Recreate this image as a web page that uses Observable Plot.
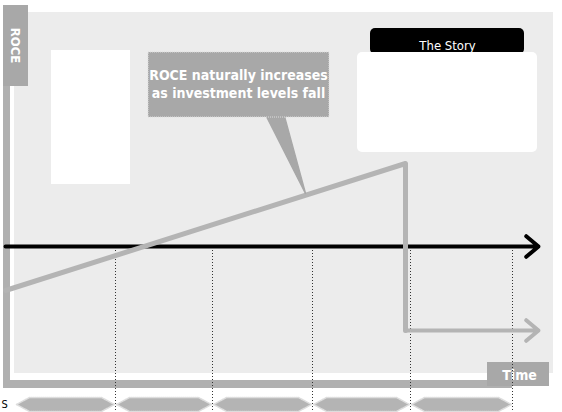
<!DOCTYPE html>
<html><head><meta charset="utf-8">
<script src="https://cdn.jsdelivr.net/npm/d3@7"></script>
<script src="https://cdn.jsdelivr.net/npm/@observablehq/plot@0.6"></script>
<style>body{margin:0;background:#fff}</style>
</head><body><div id="chart"></div>
<script>
// diagram in page coordinates (x right, y down)
const roceX = [5, 405, 405, 540]
const roceY = [290, 163, 330, 330]
const baseY = 246
const phaseEdges = [15, 115, 212, 312, 410, 512]
const boxes = [
  {x1: 51, x2: 130, y1: 50, y2: 184, fill: "white", r: 0},
  {x1: 370, x2: 524, y1: 28, y2: 54, fill: "black", r: 4},
  {x1: 357, x2: 537, y1: 52, y2: 152, fill: "white", r: 5}
]
const font = "'DejaVu Sans Condensed', 'Liberation Sans Narrow', sans-serif"

const hexes = []
phaseEdges.slice(0, -1).forEach((a, i) => {
  const b = phaseEdges[i + 1]
  ;[[a + 1, 404], [a + 14, 397], [b - 14, 397], [b - 1, 404], [b - 14, 411], [a + 14, 411], [a + 1, 404]]
    .forEach(([x, y]) => hexes.push({x, y, k: i}))
})
const roce = roceX.map((x, i) => ({x, y: roceY[i]}))

let chart = Plot.plot({
  width: 562, height: 412, margin: 0,
  x: {domain: [0, 562], axis: null},
  y: {domain: [412, 0], axis: null},
  style: {fontFamily: font},
  marks: [
    Plot.rect([{}], {x1: 14, x2: 553, y1: 12, y2: 373, fill: "#ececec"}),
    Plot.rect([{}], {x1: 3, x2: 10, y1: 60, y2: 388, fill: "#b0b0b0"}),
    Plot.rect([{}], {x1: 3, x2: 512, y1: 380, y2: 388, fill: "#b0b0b0"}),
    Plot.rect([{}], {x1: 3, x2: 28, y1: 5, y2: 86, fill: "#a8a8a8"}),
    Plot.text(["ROCE"], {x: 15, y: 45, rotate: 90, fill: "white", fontSize: 13, fontWeight: "bold"}),
    Plot.rect([{}], {x1: 487, x2: 549, y1: 362, y2: 386, fill: "#a8a8a8"}),
    Plot.text(["Time"], {x: 519, y: 375, fill: "white", fontSize: 14, fontWeight: "bold"}),
    Plot.rect(boxes.filter(d => d.r === 0), {x1: "x1", x2: "x2", y1: "y1", y2: "y2", fill: "fill"}),
    Plot.rect(boxes.filter(d => d.r > 0), {x1: "x1", x2: "x2", y1: "y1", y2: "y2", fill: "fill", rx: 5}),
    Plot.text(["The Story"], {x: 447, y: 45, fill: "white", fontSize: 13}),
    Plot.ruleX(phaseEdges.slice(1), {y1: 250, y2: 411, stroke: "#333", strokeDasharray: "1,2", strokeWidth: 1}),
    Plot.arrow([{}], {x1: 5, x2: 538, y1: baseY, y2: baseY, stroke: "black", strokeWidth: 4, headLength: 6, headAngle: 80}),
    Plot.line(roce.slice(0, 3), {x: "x", y: "y", stroke: "#b4b4b4", strokeWidth: 5}),
    Plot.arrow([{}], {x1: 405, x2: 538, y1: 330, y2: 330, stroke: "#b4b4b4", strokeWidth: 4, headLength: 6, headAngle: 80}),
    Plot.line([{x: 266, y: 116}, {x: 305, y: 193}, {x: 284, y: 116}], {x: "x", y: "y", fill: "#a8a8a8", stroke: "#a8a8a8"}),
    Plot.rect([{}], {x1: 148, x2: 329, y1: 52, y2: 117, fill: "#a8a8a8", stroke: "#ddd", strokeDasharray: "1,1"}),
    Plot.text(["ROCE naturally increases\nas investment levels fall"], {x: 238, y: 83, fill: "white", fontSize: 14, fontWeight: "bold", lineHeight: 1.3}),
    Plot.line(hexes, {x: "x", y: "y", z: "k", fill: "#b4b4b4", stroke: "#ddd", strokeDasharray: "1,1"}),
    Plot.text(["S"], {x: 1, y: 404, textAnchor: "start", fontSize: 11})
  ]
})
d3.select('#chart').append(() => chart)
</script></body></html>
